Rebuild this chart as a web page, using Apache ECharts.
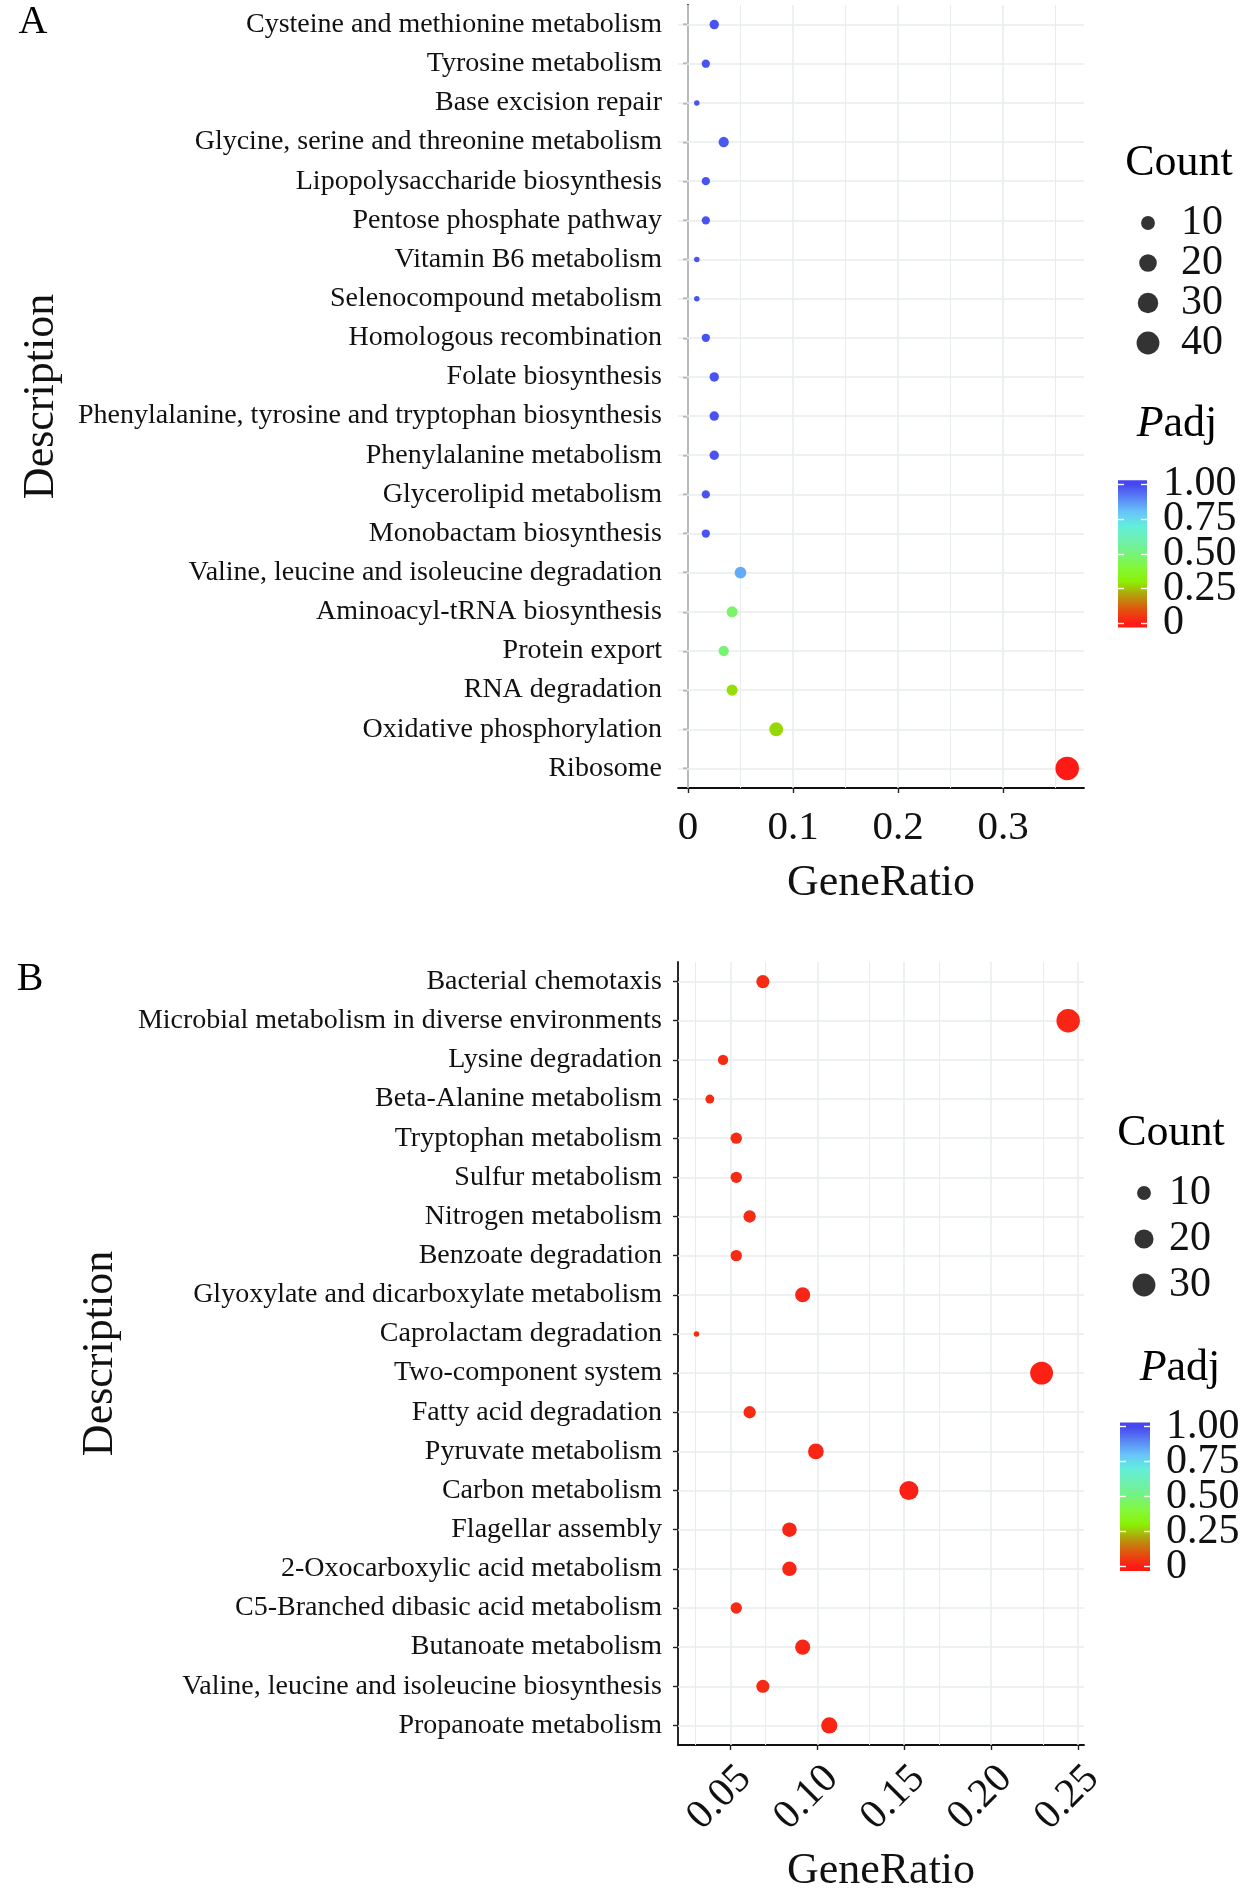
<!DOCTYPE html>
<html>
<head>
<meta charset="utf-8">
<script src="https://cdn.jsdelivr.net/npm/echarts@6/dist/echarts.min.js"></script>
<style>
html,body{margin:0;padding:0;background:#ffffff;}
#chart{width:1260px;height:1897px;}
</style>
</head>
<body>
<div id="chart"></div>
<script>
// ---------------- data ----------------
const categoriesA = [
  'Cysteine and methionine metabolism','Tyrosine metabolism','Base excision repair',
  'Glycine, serine and threonine metabolism','Lipopolysaccharide biosynthesis','Pentose phosphate pathway',
  'Vitamin B6 metabolism','Selenocompound metabolism','Homologous recombination','Folate biosynthesis',
  'Phenylalanine, tyrosine and tryptophan biosynthesis','Phenylalanine metabolism','Glycerolipid metabolism',
  'Monobactam biosynthesis','Valine, leucine and isoleucine degradation','Aminoacyl-tRNA biosynthesis',
  'Protein export','RNA degradation','Oxidative phosphorylation','Ribosome'
];
const geneRatioA = [0.025,0.017,0.0084,0.034,0.017,0.017,0.0084,0.0084,0.017,0.025,0.025,0.025,0.017,0.017,0.050,0.042,0.034,0.042,0.084,0.361];
const countA     = [3,2,1,4,2,2,1,1,2,3,3,3,2,2,6,5,4,5,10,43];
const padjA      = [0.98,0.98,0.98,0.97,0.98,0.98,0.98,0.98,0.98,0.98,0.98,0.98,0.98,0.98,0.84,0.47,0.49,0.28,0.27,0.0];

const categoriesB = [
  'Bacterial chemotaxis','Microbial metabolism in diverse environments','Lysine degradation',
  'Beta-Alanine metabolism','Tryptophan metabolism','Sulfur metabolism','Nitrogen metabolism',
  'Benzoate degradation','Glyoxylate and dicarboxylate metabolism','Caprolactam degradation',
  'Two-component system','Fatty acid degradation','Pyruvate metabolism','Carbon metabolism',
  'Flagellar assembly','2-Oxocarboxylic acid metabolism','C5-Branched dibasic acid metabolism',
  'Butanoate metabolism','Valine, leucine and isoleucine biosynthesis','Propanoate metabolism'
];
const geneRatioB = [0.0687,0.2443,0.0458,0.0382,0.0534,0.0534,0.0611,0.0534,0.0916,0.0305,0.229,0.0611,0.0992,0.1527,0.084,0.084,0.0534,0.0916,0.0687,0.1069];
const countB     = [9,32,6,5,7,7,8,7,12,4,30,8,13,20,11,11,7,12,9,14];
const padjB      = [0.03,0.02,0.03,0.03,0.03,0.03,0.03,0.03,0.02,0.03,0.01,0.03,0.02,0.01,0.02,0.02,0.03,0.02,0.03,0.02];

const xTicksA = [0, 0.1, 0.2, 0.3];
const xMinorA = [0.05, 0.15, 0.25, 0.35];
const xTicksB = [0.05, 0.10, 0.15, 0.20, 0.25];
const xMinorB = [0.025, 0.075, 0.125, 0.175, 0.225];
const countLegendA = [10, 20, 30, 40];
const countLegendB = [10, 20, 30];
const padjTicks = [0, 0.25, 0.5, 0.75, 1];
// colour scale of Padj, evenly spaced from 0 (bottom) to 1 (top)
const padjColors = ['#ff1a16','#e2540f','#b59c0e','#8cf004','#84f838','#76f27c','#6ef0ae','#62eedc','#68c4fa','#5a86f4','#4646f0'];

// ---------------- helpers ----------------
const FONT = "'Liberation Serif','Times New Roman',Times,serif";
const TXT = '#111111';
const GRIDC = '#e9ecec';
const AXC = '#111111';
function sizeOf(c, lo, hi){ return 5.5 + 18 * Math.sqrt((c - lo) / (hi - lo)); }
function fmtPadj(v){ return v === 0 ? '0' : v.toFixed(2); }
// labels of the colour bar are split in two interleaved sets so none gets hidden as overlapping
const padjTicksEven = padjTicks.filter((v, i) => i % 2 === 0);
const padjTicksOdd  = padjTicks.filter((v, i) => i % 2 === 1);

const chart = echarts.init(document.getElementById('chart'), null, {renderer:'canvas'});

const grids = [], xAxes = [], yAxes = [], series = [];

function addPanel(p){
  const gi = grids.length;
  grids.push({left:678, top:p.top, width:406, height:783, outerBoundsMode:'none', containLabel:false});
  const xi = xAxes.length, yi = yAxes.length;
  xAxes.push({
    gridIndex:gi, type:'value', min:p.xMin, max:p.xMax,
    axisLine:{show:true, onZero:false, lineStyle:{color:AXC, width:1.8}},
    axisTick:{show:true, length:5, customValues:p.ticks, lineStyle:{color:'#222', width:1.4}},
    axisLabel:Object.assign({customValues:p.ticks, formatter:p.fmt, fontSize:41, fontFamily:FONT, color:TXT,
      margin:p.labelMargin, hideOverlap:false}, p.labelExtra || {}),
    splitLine:{show:false},
    name:'GeneRatio', nameLocation:'middle', nameGap:p.nameGap,
    nameTextStyle:{fontSize:44, fontFamily:FONT, color:TXT}
  });
  yAxes.push({
    gridIndex:gi, type:'category', data:p.cats, inverse:true,
    axisLine:{show:true, lineStyle:{color:AXC, width:1.8}},
    axisTick:{show:true, alignWithLabel:true, length:5, lineStyle:{color:'#222', width:1.4}},
    axisLabel:{fontSize:28, fontFamily:FONT, color:TXT, margin:16, interval:0},
    splitLine:{show:false},
    name:'Description', nameLocation:'middle', nameGap:p.descGap, nameRotate:90,
    nameTextStyle:{fontSize:44, fontFamily:FONT, color:TXT}
  });
  // background grid lines (drawn through the axes' scales)
  const ml = [];
  p.ticks.forEach(v => ml.push({xAxis:v}));
  p.minor.forEach(v => ml.push({xAxis:v, lineStyle:{width:1.0}}));
  p.cats.forEach((c, i) => ml.push({yAxis:i}));
  series.push({
    type:'line', xAxisIndex:xi, yAxisIndex:yi, data:[], z:1, silent:true,
    markLine:{silent:true, symbol:['none','none'], label:{show:false}, animation:false,
      lineStyle:{color:GRIDC, type:'solid', width:1.5}, emphasis:{disabled:true}, data:ml}
  });
  const lo = Math.min(...p.cnt), hi = Math.max(...p.cnt);
  const si = series.length;
  series.push({
    type:'scatter', xAxisIndex:xi, yAxisIndex:yi, z:5,
    data:p.cats.map((c, i) => [p.gr[i], i, p.padj[i], p.cnt[i]]),
    symbolSize:(v) => sizeOf(v[3], lo, hi),
    itemStyle:{opacity:1},
    emphasis:{disabled:true}
  });
  // Count legend
  const lg = grids.length;
  grids.push({left:p.legLeft, top:p.legTop, width:40, height:p.legH, outerBoundsMode:'none'});
  const lxi = xAxes.length, lyi = yAxes.length;
  xAxes.push({gridIndex:lg, type:'value', min:0, max:1, show:false});
  yAxes.push({gridIndex:lg, type:'category', data:p.legend.map(String), inverse:true, position:'right',
    axisLine:{show:false}, axisTick:{show:false}, splitLine:{show:false},
    axisLabel:{fontSize:42, fontFamily:FONT, color:TXT, margin:p.legMargin, interval:0, hideOverlap:false}});
  series.push({
    type:'scatter', xAxisIndex:lxi, yAxisIndex:lyi, silent:true,
    data:p.legend.map((c, i) => [0.5, i, c]),
    symbolSize:(v) => sizeOf(v[2], lo, hi),
    itemStyle:{color:'#000'}, emphasis:{disabled:true}
  });
  // Padj colour bar
  const cg = grids.length;
  grids.push({left:p.cbLeft, top:p.cbTop, width:p.cbW, height:p.cbH, outerBoundsMode:'none'});
  const cxi = xAxes.length, cyi = yAxes.length;
  xAxes.push({gridIndex:cg, type:'value', min:0, max:1, show:false});
  const tickStyle = {show:true, inside:true, length:6, customValues:padjTicks, lineStyle:{color:'#ffffff', width:1.4}};
  yAxes.push({gridIndex:cg, type:'value', min:0, max:1, position:'left', z:10,
    axisLine:{show:false}, axisTick:tickStyle, axisLabel:{show:false}, splitLine:{show:false}});
  [padjTicksEven, padjTicksOdd].forEach((vals, k) => {
    yAxes.push({gridIndex:cg, type:'value', min:0, max:1, position:'right', offset:0, z:10,
      axisLine:{show:false}, splitLine:{show:false},
      axisTick:k === 0 ? tickStyle : {show:false},
      axisLabel:{customValues:vals, formatter:fmtPadj, fontSize:42, fontFamily:FONT, color:TXT, margin:16,
        showMinLabel:true, showMaxLabel:true, hideOverlap:false, interval:0}});
  });
  series.push({
    type:'custom', xAxisIndex:cxi, yAxisIndex:cyi, silent:true, z:2,
    data:[[0, 0]],
    renderItem:(params, api) => {
      const ext = 0.03;
      const p0 = api.coord([0, 1 + ext]);
      const p1 = api.coord([1, -ext]);
      const n = padjColors.length;
      const stops = padjColors.map((c, i) => ({offset:(1 + ext - i / (n - 1)) / (1 + 2 * ext), color:c})).reverse();
      return {type:'rect', shape:{x:p0[0], y:p0[1], width:p1[0] - p0[0], height:p1[1] - p0[1]},
        style:{fill:new echarts.graphic.LinearGradient(0, 0, 0, 1, stops)}};
    }
  });
  return si;
}

const sA = addPanel({
  top:5, cats:categoriesA, gr:geneRatioA, cnt:countA, padj:padjA,
  xMin:-0.0095, xMax:0.377, ticks:xTicksA, minor:xMinorA,
  fmt:(v) => v === 0 ? '0' : String(v), labelMargin:20, nameGap:73, descGap:615,
  legend:countLegendA, legLeft:1128, legTop:203, legH:160, legMargin:13,
  cbLeft:1118, cbTop:484.3, cbW:29, cbH:139
});
const sB = addPanel({
  top:962, cats:categoriesB, gr:geneRatioB, cnt:countB, padj:padjB,
  xMin:0.0199, xMax:0.2534, ticks:xTicksB, minor:xMinorB,
  fmt:(v) => v.toFixed(2), labelMargin:13, nameGap:104, descGap:556,
  labelExtra:{rotate:45, align:'right', verticalAlign:'top'},
  legend:countLegendB, legLeft:1124, legTop:1170, legH:138, legMargin:5,
  cbLeft:1120, cbTop:1426.7, cbW:30, cbH:140
});

function txt(x, y, text, size, extra){
  return Object.assign({type:'text', x:x, y:y, silent:true, style:{
    text:text, font:size + 'px ' + FONT, fill:'#000',
    align:'center', verticalAlign:'middle', textAlign:'center', textVerticalAlign:'middle'
  }}, extra || {});
}
function padjTitle(x, y){
  const t = txt(x, y, '{i|P}adj', 44);
  t.style.rich = {i:{font:'italic 44px ' + FONT, fill:'#000'}};
  return t;
}

chart.setOption({
  backgroundColor:'#ffffff',
  animation:false,
  grid:grids, xAxis:xAxes, yAxis:yAxes, series:series,
  visualMap:[{
    type:'continuous', show:false, min:0, max:1, dimension:2,
    seriesIndex:[sA, sB], inRange:{color:padjColors}
  }],
  graphic:[
    txt(33, 22, 'A', 40),
    txt(30, 979, 'B', 40),
    txt(1179, 163, 'Count', 44),
    padjTitle(1177, 424),
    txt(1171, 1133, 'Count', 44),
    padjTitle(1180, 1368)
  ]
});
</script>
</body>
</html>
